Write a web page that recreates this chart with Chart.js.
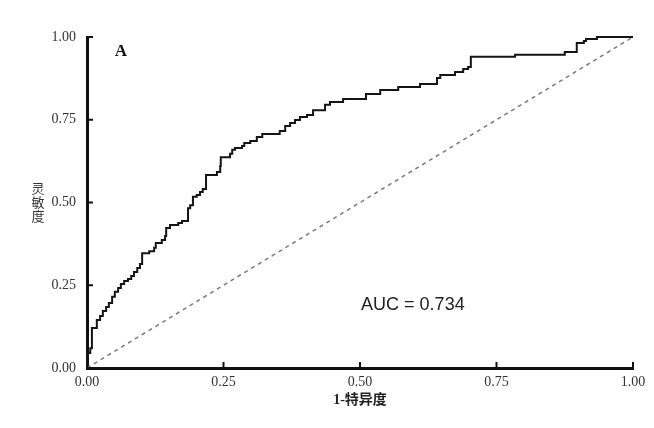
<!DOCTYPE html>
<html lang="zh">
<head>
<meta charset="utf-8">
<title>ROC</title>
<script src="https://cdn.jsdelivr.net/npm/chart.js@4.4.1/dist/chart.umd.min.js"></script>
<style>
  html, body { margin: 0; padding: 0; background: #fff; }
  #wrap { width: 654px; height: 428px; }
</style>
</head>
<body>
<div id="wrap"><canvas id="rocChart" width="654" height="428"></canvas></div>
<script>
// ROC step points: 1-specificity (x) and sensitivity (y)
// each point is the top of a vertical jump, drawn as a stepped line
const fpr = [0, 0, 0.006, 0.009, 0.018, 0.024, 0.029, 0.035, 0.040, 0.046, 0.051, 0.057, 0.062,
  0.068, 0.075, 0.081, 0.086, 0.092, 0.097, 0.101, 0.114, 0.123, 0.126, 0.137, 0.143, 0.145,
  0.152, 0.167, 0.174, 0.185, 0.189, 0.194, 0.201, 0.207, 0.212, 0.218, 0.238, 0.244, 0.245,
  0.262, 0.266, 0.271, 0.284, 0.288, 0.299, 0.311, 0.321, 0.353, 0.363, 0.372, 0.381, 0.390,
  0.403, 0.414, 0.436, 0.445, 0.469, 0.511, 0.537, 0.570, 0.610, 0.641, 0.647, 0.674, 0.689,
  0.698, 0.703, 0.784, 0.875, 0.897, 0.910, 0.914, 0.934, 1];
const tpr = [0, 0.045, 0.060, 0.121, 0.145, 0.157, 0.172, 0.184, 0.196, 0.215, 0.230, 0.242, 0.254,
  0.263, 0.269, 0.278, 0.290, 0.302, 0.314, 0.347, 0.353, 0.363, 0.378, 0.387, 0.399, 0.423,
  0.432, 0.438, 0.444, 0.483, 0.492, 0.517, 0.523, 0.532, 0.541, 0.583, 0.592, 0.610, 0.637,
  0.647, 0.659, 0.665, 0.671, 0.680, 0.686, 0.698, 0.707, 0.716, 0.731, 0.740, 0.749, 0.758,
  0.764, 0.779, 0.795, 0.804, 0.813, 0.828, 0.840, 0.849, 0.858, 0.876, 0.885, 0.894, 0.903,
  0.909, 0.940, 0.946, 0.955, 0.982, 0.988, 0.994, 1, 1];

// reference (chance) line
const diagX = [0, 1];
const diagY = [0, 1];

const tickValues = [0, 0.25, 0.5, 0.75, 1];
const tickLabels = ['0.00', '0.25', '0.50', '0.75', '1.00'];

const xTitle = '1-特异度';
const yTitle = '灵敏度';
const panelLabel = 'A';
const aucText = 'AUC = 0.734';

document.addEventListener("DOMContentLoaded", () => {
  initRocChart();
});

function toPoints(xs, ys) {
  return xs.map((x, i) => ({ x: x, y: ys[i] }));
}

// Inward tick marks, stacked y title, panel letter and AUC text
const extrasPlugin = {
  id: 'rocExtras',
  afterDraw(chart) {
    const ctx = chart.ctx;
    const xs = chart.scales.x;
    const ys = chart.scales.y;
    const area = chart.chartArea;

    ctx.save();
    ctx.strokeStyle = '#111';
    ctx.lineWidth = 2;
    tickValues.forEach(v => {
      const py = ys.getPixelForValue(v);
      ctx.beginPath();
      ctx.moveTo(area.left, py);
      ctx.lineTo(area.left + 6, py);
      ctx.stroke();
      const px = xs.getPixelForValue(v);
      ctx.beginPath();
      ctx.moveTo(px, area.bottom);
      ctx.lineTo(px, area.bottom - 6);
      ctx.stroke();
    });

    // y title: characters stacked vertically
    ctx.fillStyle = '#333';
    ctx.font = '13px "Noto Sans CJK SC"';
    ctx.textAlign = 'center';
    ctx.textBaseline = 'middle';
    const chars = Array.from(yTitle);
    const midY = ys.getPixelForValue(0.5);
    chars.forEach((c, i) => {
      ctx.fillText(c, area.left - 49, midY + (i - (chars.length - 1) / 2) * 14);
    });

    // panel letter
    ctx.fillStyle = '#111';
    ctx.font = 'bold 17px "Liberation Serif"';
    ctx.fillText(panelLabel, xs.getPixelForValue(0.062), ys.getPixelForValue(0.955));

    // AUC annotation
    ctx.font = '18px "Liberation Sans"';
    ctx.textAlign = 'left';
    ctx.fillStyle = '#222';
    ctx.fillText(aucText, xs.getPixelForValue(0.502), ys.getPixelForValue(0.19));
    ctx.restore();
  }
};

function initRocChart() {
  const canvas = document.getElementById('rocChart');
  const tickFont = { family: '"Liberation Serif"', size: 14 };

  new Chart(canvas, {
    type: 'line',
    data: {
      datasets: [
        {
          label: 'ROC',
          data: toPoints(fpr, tpr),
          borderColor: '#151515',
          borderWidth: 2,
          pointRadius: 0,
          stepped: true,
          fill: false,
          clip: false
        },
        {
          label: 'Reference',
          data: toPoints(diagX, diagY),
          borderColor: '#7a7a7a',
          borderWidth: 1.5,
          borderDash: [4, 4],
          pointRadius: 0,
          fill: false,
          clip: false
        }
      ]
    },
    options: {
      responsive: false,
      animation: false,
      layout: { padding: { left: 0, right: 21, top: 37, bottom: 0 } },
      scales: {
        x: {
          type: 'linear',
          min: 0,
          max: 1,
          afterBuildTicks: s => { s.ticks = tickValues.map(v => ({ value: v })); },
          afterFit: s => { s.height = 60; },
          grid: { display: false, drawTicks: false },
          border: { display: true, color: '#111', width: 3 },
          ticks: {
            color: '#333',
            font: tickFont,
            padding: 6,
            maxRotation: 0,
            callback: (v) => tickLabels[tickValues.indexOf(v)]
          },
          title: {
            display: true,
            text: xTitle,
            color: '#222',
            font: { family: '"Liberation Serif", "Noto Sans CJK SC"', size: 14, weight: 'bold' },
            padding: { top: 0, bottom: 19 }
          }
        },
        y: {
          type: 'linear',
          min: 0,
          max: 1,
          afterBuildTicks: s => { s.ticks = tickValues.map(v => ({ value: v })); },
          afterFit: s => { s.width = 87; },
          grid: { display: false, drawTicks: false },
          border: { display: true, color: '#111', width: 3 },
          ticks: {
            color: '#333',
            font: tickFont,
            padding: 11,
            callback: (v) => tickLabels[tickValues.indexOf(v)]
          }
        }
      },
      plugins: {
        legend: { display: false },
        tooltip: { enabled: false }
      }
    },
    plugins: [extrasPlugin]
  });
}
</script>
</body>
</html>
